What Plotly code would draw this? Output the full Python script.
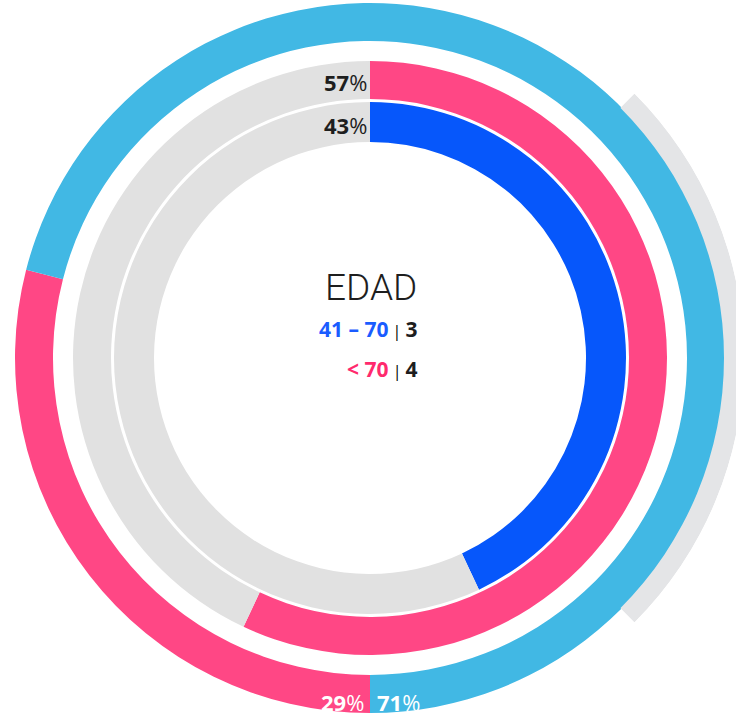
import plotly.graph_objects as go

# ── Data ─────────────────────────────────────────────────────────────────────
OUTER_LABELS = ["29%", "71%"]
OUTER_VALUES = [29, 71]          # pink, light blue (starts at 6 o'clock)
MIDDLE_VALUES = [57, 43]         # pink, grey (starts at 12 o'clock)
INNER_VALUES = [43, 57]          # blue, grey (starts at 12 o'clock)
ARC_SHARE = 25                   # decorative grey arc centred at 3 o'clock

CENTER_TITLE = "EDAD"
GROUPS = ["41 – 70", "< 70"]
GROUP_COUNTS = [3, 4]

# ── Palette ──────────────────────────────────────────────────────────────────
C = {
    "lightblue": "#41b8e4",
    "pink":      "#ff4785",
    "blue":      "#0657fb",
    "grey":      "#e1e1e1",
    "arc":       "#e4e5e7",
    "txt_blue":  "#1a5cff",
    "txt_pink":  "#ff2a6d",
    "ink":       "#1e1e1e",
}

W, H = 744, 719         # a little wider than the window so the arc runs off the edge
CX, CY = 370, 358       # ring centre (px from top-left)
R_DISC = 358            # main polar disc radius; 1 radial unit == 1px
R_ARC = W - CX          # arc subplot radius (sector reaches the right edge)


def ring(values, colors, start, base, thick, subplot="polar"):
    """Turn percentages into barpolar segments, clockwise from `start` deg."""
    thetas, widths = [], []
    a = start
    for v in values:
        w = v * 3.6
        thetas.append(a + w / 2)
        widths.append(w)
        a += w
    return go.Barpolar(
        theta=thetas, width=widths,
        r=[thick] * len(values), base=[base] * len(values),
        marker=dict(color=colors, line=dict(width=0)),
        hoverinfo="skip", showlegend=False, subplot=subplot,
    )


fig = go.Figure()

# outer ring
fig.add_trace(ring(OUTER_VALUES, [C["pink"], C["lightblue"]], 180, 317, 38))
# middle ring
fig.add_trace(ring(MIDDLE_VALUES, [C["pink"], C["grey"]], 0, 259, 38))
# inner ring
fig.add_trace(ring(INNER_VALUES, [C["blue"], C["grey"]], 0, 216, 40))
# decorative grey arc, on a half-open sector subplot so it can reach past the disc
fig.add_trace(ring([ARC_SHARE], [C["arc"]], 90 - ARC_SHARE * 1.8,
                   354, R_ARC - 354, subplot="polar2"))

hidden_axes = dict(
    bgcolor="rgba(0,0,0,0)",
    angularaxis=dict(visible=False, direction="clockwise", rotation=90),
)

fig.update_layout(
    width=W, height=H,
    margin=dict(l=0, r=0, t=0, b=0),
    paper_bgcolor="white",
    polar=dict(
        domain=dict(
            x=[(CX - R_DISC) / W, (CX + R_DISC) / W],
            y=[(H - CY - R_DISC) / H, 1],
        ),
        radialaxis=dict(visible=False, range=[0, R_DISC]),
        **hidden_axes,
    ),
    polar2=dict(
        domain=dict(
            x=[CX / W, 1],
            y=[(H - CY - 275) / H, (H - CY + 275) / H],
        ),
        sector=[-45, 45],
        radialaxis=dict(visible=False, range=[0, R_ARC]),
        **hidden_axes,
    ),
    bargap=0,
)


def px(x, y):
    return x / W, 1 - y / H


NUM_FONT = "Open Sans"
ann = []


def pct(label, x, y, color, anchor):
    num = label.rstrip("%")
    ax, ay = px(x, y)
    ann.append(dict(
        x=ax, y=ay, xref="paper", yref="paper", showarrow=False,
        xanchor=anchor, yanchor="middle",
        text=f"<b>{num}</b>%",
        font=dict(family=NUM_FONT, size=22, color=color),
    ))


pct(f"{MIDDLE_VALUES[0]}%", 369, 82, C["ink"], "right")
pct(f"{INNER_VALUES[0]}%", 369, 125, C["ink"], "right")
pct(OUTER_LABELS[0], 366, 702, "white", "right")
pct(OUTER_LABELS[1], 375, 702, "white", "left")

# centre title
tx, ty = px(371, 287)
ann.append(dict(
    x=tx, y=ty, xref="paper", yref="paper", showarrow=False,
    xanchor="center", yanchor="middle", text=CENTER_TITLE,
    font=dict(family="Roboto", size=37, color=C["ink"], weight=300),
))

# group counts
for i, (g, n, col) in enumerate(zip(GROUPS, GROUP_COUNTS,
                                    [C["txt_blue"], C["txt_pink"]])):
    gx, gy = px(420, 329 + i * 40)
    ann.append(dict(
        x=gx, y=gy, xref="paper", yref="paper", showarrow=False,
        xanchor="right", yanchor="middle",
        text=(f"<span style='color:{col}'><b>{g}</b></span>"
              f"<span style='font-size:16px;color:#000'> | </span><b>{n}</b>"),
        font=dict(family=NUM_FONT, size=21, color=C["ink"]),
    ))

fig.update_layout(annotations=ann)

# the page body's default 8px margin would shift the whole figure
fig.write_html(
    "out.html",
    config={"displayModeBar": False},
    post_script="document.body.style.margin='0';document.body.style.overflow='hidden';",
)
